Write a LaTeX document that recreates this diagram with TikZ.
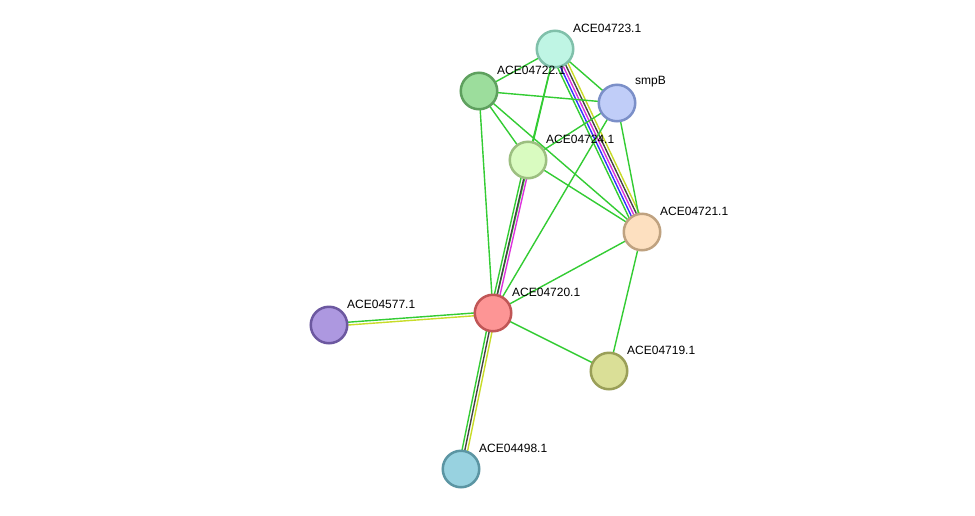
\documentclass[tikz,border=0pt]{standalone}
\usepackage{fontspec}
\setmainfont{Liberation Sans}
\usetikzlibrary{calc,backgrounds}
\definecolor{eg}{HTML}{33CC33}
\definecolor{eb}{HTML}{3333FF}
\definecolor{em}{HTML}{DD33DD}
\definecolor{ek}{HTML}{444444}
\definecolor{ey}{HTML}{C8DC28}
\definecolor{f23}{HTML}{BFF5E4}\definecolor{d23}{HTML}{80C0AA}
\definecolor{f22}{HTML}{9CDD9C}\definecolor{d22}{HTML}{5EA05E}
\definecolor{fsm}{HTML}{C0CDF8}\definecolor{dsm}{HTML}{7B8FC8}
\definecolor{f24}{HTML}{D9FBC0}\definecolor{d24}{HTML}{9CBF80}
\definecolor{f21}{HTML}{FDE0C0}\definecolor{d21}{HTML}{BFA280}
\definecolor{f20}{HTML}{FD9595}\definecolor{d20}{HTML}{C05656}
\definecolor{f77}{HTML}{AD98E0}\definecolor{d77}{HTML}{6C58A0}
\definecolor{f19}{HTML}{DADF97}\definecolor{d19}{HTML}{9A9F58}
\definecolor{f98}{HTML}{98D2E0}\definecolor{d98}{HTML}{5B95A3}
\tikzset{
  prot/.style={circle,minimum size=36.5pt,inner sep=0pt,line width=2.5pt},
  lbl/.style={anchor=west,font=\fontsize{12pt}{12pt}\selectfont,inner sep=0pt},
  edge/.style={line width=1.4pt}
}
\newcommand\ed[4]{\draw[edge,#4] ($(#1)!#3!90:(#2)$) -- ($(#2)!#3!-90:(#1)$);}
\begin{document}
\begin{tikzpicture}[x=1pt,y=-1pt]
\useasboundingbox (0,0) rectangle (975,515);
\node[prot,fill=f23,draw=d23] (n23) at (555,49) {};
\node[prot,fill=f22,draw=d22] (n22) at (479,91) {};
\node[prot,fill=fsm,draw=dsm] (smpB) at (617,103) {};
\node[prot,fill=f24,draw=d24] (n24) at (528,160) {};
\node[prot,fill=f21,draw=d21] (n21) at (642,232) {};
\node[prot,fill=f20,draw=d20] (n20) at (493,313) {};
\node[prot,fill=f77,draw=d77] (n77) at (329,325) {};
\node[prot,fill=f19,draw=d19] (n19) at (609,371) {};
\node[prot,fill=f98,draw=d98] (n98) at (461,469) {};
\node[lbl] (l23) at (573,28) {ACE04723.1};
\node[lbl] (l22) at (497,70) {ACE04722.1};
\node[lbl] (lsmpB) at (635,82) {smpB};
\node[lbl] (l24) at (546,139) {ACE04724.1};
\node[lbl] (l21) at (660,211) {ACE04721.1};
\node[lbl] (l20) at (512,292) {ACE04720.1};
\node[lbl] (l77) at (347,304) {ACE04577.1};
\node[lbl] (l19) at (627,350) {ACE04719.1};
\node[lbl] (l98) at (479,448) {ACE04498.1};
\begin{scope}[on background layer]
\fill[white] (0,0) rectangle (975,515);
\ed{n23}{n22}{0pt}{eg}
\ed{n23}{smpB}{0pt}{eg}
\ed{n23}{n24}{0pt}{eg}
\ed{n23}{n20}{0pt}{eg}
\ed{n23}{n21}{-5.6pt}{eg}
\ed{n23}{n21}{-2.8pt}{eb}
\ed{n23}{n21}{0pt}{em}
\ed{n23}{n21}{2.8pt}{ek}
\ed{n23}{n21}{5.6pt}{ey}
\ed{n22}{smpB}{0pt}{eg}
\ed{n22}{n24}{0pt}{eg}
\ed{n22}{n21}{0pt}{eg}
\ed{n22}{n20}{0pt}{eg}
\ed{smpB}{n24}{0pt}{eg}
\ed{smpB}{n21}{0pt}{eg}
\ed{smpB}{n20}{0pt}{eg}
\ed{n24}{n21}{0pt}{eg}
\ed{n24}{n20}{-2.8pt}{eg}
\ed{n24}{n20}{0pt}{ek}
\ed{n24}{n20}{2.8pt}{em}
\ed{n21}{n20}{0pt}{eg}
\ed{n21}{n19}{0pt}{eg}
\ed{n20}{n19}{0pt}{eg}
\ed{n20}{n77}{-1.4pt}{eg}
\ed{n20}{n77}{1.4pt}{ey}
\ed{n20}{n98}{-2.8pt}{eg}
\ed{n20}{n98}{0pt}{ek}
\ed{n20}{n98}{2.8pt}{ey}
\end{scope}
\end{tikzpicture}
\end{document}
